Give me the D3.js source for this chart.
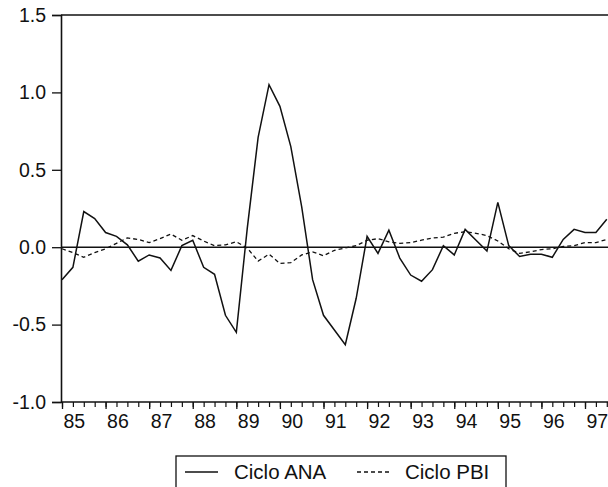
<!DOCTYPE html>
<html>
<head>
<meta charset="utf-8">
<script src="https://cdn.jsdelivr.net/npm/d3@7"></script>
<style>
  html, body { margin: 0; padding: 0; background: #fff; }
  svg { display: block; }
  text { font-family: "Liberation Sans", Arial, sans-serif; fill: #111; }
</style>
</head>
<body>
<svg id="chart" width="608" height="487"></svg>
<script>
// ---- data (quarterly, 1985Q1 .. 1997Q3) ----
const startYear = 1985;
const yearLabels = ["85","86","87","88","89","90","91","92","93","94","95","96","97"];
const yTicks = [-1.0, -0.5, 0.0, 0.5, 1.0, 1.5];
const yTickLabels = ["-1.0", "-0.5", "0.0", "0.5", "1.0", "1.5"];
const seriesNames = ["Ciclo ANA", "Ciclo PBI"];
const cicloANA = [
  -0.21, -0.13, 0.23, 0.185, 0.095, 0.07, 0.015, -0.09, -0.05, -0.07,
  -0.15, 0.01, 0.045, -0.13, -0.175, -0.44, -0.55, 0.12, 0.71, 1.05,
  0.91, 0.65, 0.26, -0.21, -0.44, -0.535, -0.63, -0.33, 0.07, -0.04,
  0.11, -0.07, -0.18, -0.22, -0.145, 0.01, -0.05, 0.115, 0.045, -0.025,
  0.29, 0.01, -0.06, -0.045, -0.045, -0.065, 0.05, 0.115, 0.095, 0.095,
  0.18
];
const cicloPBI = [
  -0.01, -0.035, -0.065, -0.035, -0.01, 0.025, 0.06, 0.05, 0.03, 0.055,
  0.085, 0.045, 0.075, 0.04, 0.01, 0.015, 0.035, -0.005, -0.09, -0.045,
  -0.105, -0.1, -0.05, -0.03, -0.055, -0.02, -0.005, 0.01, 0.045, 0.055,
  0.035, 0.025, 0.03, 0.045, 0.06, 0.065, 0.09, 0.1, 0.09, 0.075,
  0.04, -0.01, -0.04, -0.03, -0.015, -0.01, 0.005, 0.01, 0.03, 0.03,
  0.05
];

// ---- layout ----
const svg = d3.select("#chart");
const plotLeft = 61, plotTop = 15, plotBottom = 402;
const x = d3.scaleLinear().domain([1985, 1997]).range([62, 585]);
const y = d3.scaleLinear().domain([-1.0, 1.5]).range([plotBottom, plotTop]);
const xEnd = 1997.75;
const ink = "#111";
const fontFam = '"Liberation Sans", Arial, sans-serif';

const tq = i => startYear + i / 4;

// frame: top line
svg.append("line").attr("x1", plotLeft).attr("x2", 620).attr("y1", plotTop).attr("y2", plotTop)
  .attr("stroke", ink).attr("stroke-width", 1.6);

// zero line
svg.append("line").attr("x1", plotLeft).attr("x2", 620).attr("y1", y(0)).attr("y2", y(0))
  .attr("stroke", ink).attr("stroke-width", 1.5);

// y axis
const yAxis = d3.axisLeft(y).tickValues(yTicks)
  .tickFormat((d, i) => yTickLabels[i]).tickSize(9).tickPadding(6);
const gy = svg.append("g").attr("transform", `translate(${plotLeft},0)`).call(yAxis);
gy.select(".domain").attr("stroke", ink).attr("stroke-width", 1.6);
gy.selectAll(".tick line").attr("stroke", ink).attr("stroke-width", 1.3);
gy.selectAll(".tick text").attr("font-size", 19.5).style("font-family", fontFam).attr("fill", ink);

// x axis (quarterly minor ticks, yearly major ticks)
const quarterTicks = d3.range(0, (xEnd - startYear) * 4 + 1).map(tq);
const xMinor = d3.axisBottom(x).tickValues(quarterTicks).tickSize(5).tickFormat("");
const gxm = svg.append("g").attr("transform", `translate(0,${plotBottom})`).call(xMinor);
gxm.select(".domain").remove();
gxm.selectAll(".tick line").attr("stroke", ink).attr("stroke-width", 1.2);

const yearTicks = yearLabels.map((d, i) => startYear + i);
const xMajor = d3.axisBottom(x).tickValues(yearTicks).tickSize(7)
  .tickFormat((d, i) => yearLabels[i]).tickPadding(5);
const gx = svg.append("g").attr("transform", `translate(0,${plotBottom})`).call(xMajor);
gx.select(".domain").remove();
gx.selectAll(".tick line").attr("stroke", ink).attr("stroke-width", 1.3);
gx.selectAll(".tick text").attr("font-size", 19.5).attr("text-anchor", "start").attr("x", 1)
  .style("font-family", fontFam).attr("fill", ink);

svg.append("line").attr("x1", plotLeft).attr("x2", 620).attr("y1", plotBottom).attr("y2", plotBottom)
  .attr("stroke", ink).attr("stroke-width", 1.6);

// series
const line = d3.line().x((d, i) => x(tq(i))).y(d => y(d));
svg.append("path").datum(cicloPBI).attr("d", line).attr("fill", "none")
  .attr("stroke", ink).attr("stroke-width", 1.3).attr("stroke-dasharray", "4,3");
svg.append("path").datum(cicloANA).attr("d", line).attr("fill", "none")
  .attr("stroke", ink).attr("stroke-width", 1.5).attr("stroke-linejoin", "miter");

// legend
const lg = svg.append("g");
lg.append("rect").attr("x", 176).attr("y", 456).attr("width", 330).attr("height", 40)
  .attr("fill", "none").attr("stroke", ink).attr("stroke-width", 1.3);
const items = [
  { name: seriesNames[0], x0: 185, x1: 218, tx: 234, dash: null },
  { name: seriesNames[1], x0: 357, x1: 392, tx: 405, dash: "4,3" }
];
items.forEach(it => {
  lg.append("line").attr("x1", it.x0).attr("x2", it.x1).attr("y1", 472).attr("y2", 472)
    .attr("stroke", ink).attr("stroke-width", 1.3).attr("stroke-dasharray", it.dash);
  lg.append("text").attr("x", it.tx).attr("y", 479).attr("font-size", 20.5)
    .style("font-family", fontFam).text(it.name);
});
</script>
</body>
</html>
